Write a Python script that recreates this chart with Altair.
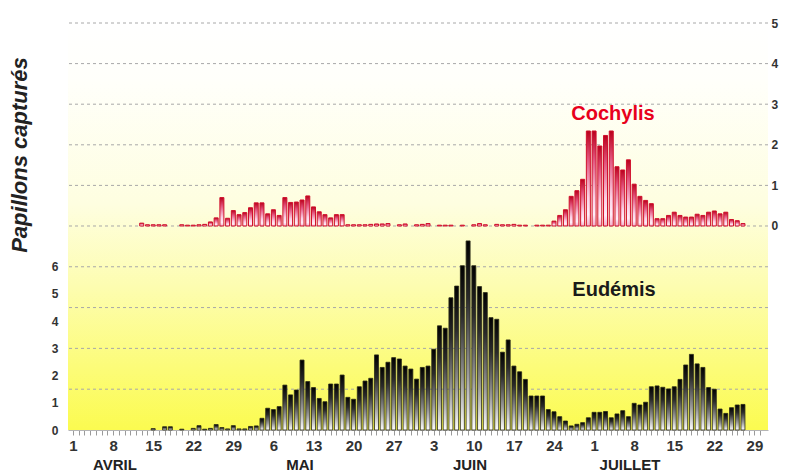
import json
import altair as alt
import pandas as pd

# ---------------- data (day index 0 = 1 April) ----------------
tick_labels = ["1", "8", "15", "22", "29", "6", "13", "20", "27", "3", "10",
               "17", "24", "1", "8", "15", "22", "29"]
month_names = ["AVRIL", "MAI", "JUIN", "JUILLET"]

eudemis_start = 14
eudemis = [0.05, 0, 0.12, 0.12, 0, 0.03, 0, 0.06, 0.16, 0.03, 0.06, 0.2, 0.09,
           0.04, 0.16, 0.04, 0.04, 0.13, 0.15, 0.43, 0.8, 0.75, 0.86, 1.65, 1.29,
           1.47, 2.57, 1.78, 1.56, 1.16, 1.04, 1.69, 1.69, 2.02, 1.2, 1.13, 1.59,
           1.8, 1.9, 2.76, 2.3, 2.49, 2.66, 2.61, 2.35, 2.24, 1.87, 2.3, 2.35,
           2.97, 3.83, 3.74, 4.86, 5.29, 6.04, 6.95, 6.04, 5.27, 5.05, 4.13, 4.07,
           2.86, 3.31, 2.35, 2.14, 1.86, 1.25, 1.25, 1.25, 0.75, 0.67, 0.49, 0.33,
           0.15, 0.21, 0.27, 0.45, 0.65, 0.65, 0.68, 0.45, 0.59, 0.71, 0.49, 0.98,
           0.92, 1.02, 1.59, 1.62, 1.57, 1.51, 1.59, 1.86, 2.39, 2.78, 2.43, 2.3,
           1.56, 1.5, 0.77, 0.61, 0.82, 0.92, 0.94]

cochylis_start = 12
cochylis = [0.07, 0.03, 0.03, 0.03, 0.03, 0, 0, 0.03, 0.02, 0.02, 0.03, 0.04,
            0.1, 0.2, 0.7, 0.19, 0.38, 0.28, 0.33, 0.45, 0.57, 0.57, 0.3, 0.4,
            0.26, 0.7, 0.58, 0.59, 0.64, 0.74, 0.47, 0.35, 0.28, 0.2, 0.28, 0.28,
            0.03, 0.03, 0.03, 0.03, 0.04, 0.05, 0.05, 0.06, 0, 0.03, 0.05, 0,
            0.03, 0.04, 0.06, 0, 0.02, 0.02, 0.02, 0, 0.02, 0, 0.03, 0.06, 0.03,
            0, 0.04, 0.03, 0.03, 0.04, 0.02, 0.02, 0, 0.02, 0.02, 0.02, 0.12,
            0.26, 0.4, 0.73, 0.87, 1.15, 2.34, 2.34, 1.97, 2.23, 2.34, 1.46, 1.38,
            1.63, 1.03, 0.73, 0.63, 0.55, 0.18, 0.18, 0.26, 0.34, 0.26, 0.22,
            0.22, 0.29, 0.26, 0.34, 0.37, 0.3, 0.34, 0.16, 0.13, 0.06]

top_grid = [0, 1, 2, 3, 4, 5]
bottom_grid = [1.5, 3, 4.5, 6]
bottom_ticks = [0, 1, 2, 3, 4, 5, 6]

# ---------------- frames ----------------
df_e = pd.DataFrame({"day": range(eudemis_start, eudemis_start + len(eudemis)),
                     "v": eudemis})
df_e = df_e[df_e.v > 0]
df_c = pd.DataFrame({"day": range(cochylis_start, cochylis_start + len(cochylis)),
                     "v": cochylis})
df_c = df_c[df_c.v > 0]

W, H = 700, 410
FONT = "Liberation Sans"

xscale = alt.Scale(domain=[0, 120.5], nice=False, zero=False)
label_expr = ("datum.value % 7 === 0 && datum.value <= 119 ? "
              + json.dumps(tick_labels) + "[datum.value / 7] : ''")
xaxis = alt.Axis(values=list(range(0, 121)), labelExpr=label_expr, title=None,
                 labelOverlap=False, labelFlush=False, grid=False,
                 tickSize=5, tickColor="#9a9a9a", domainColor="#b5b5b5",
                 labelFont=FONT, labelFontWeight="bold", labelFontSize=15,
                 labelColor="#333333", labelPadding=3)

top_scale = alt.Scale(domain=[-5.025, 5.074], nice=False, zero=False)
bot_scale = alt.Scale(domain=[0, 15.07], nice=False, zero=False)

bg = alt.Chart(pd.DataFrame({"a": [0]})).mark_rect(
    fill=alt.LinearGradient(gradient="linear", x1=0, x2=0, y1=0, y2=1, stops=[
        alt.GradientStop(color="#ffffff", offset=0),
        alt.GradientStop(color="#fffffa", offset=0.15),
        alt.GradientStop(color="#fefee0", offset=0.45),
        alt.GradientStop(color="#fdfdb0", offset=0.65),
        alt.GradientStop(color="#fcfc78", offset=0.85),
        alt.GradientStop(color="#fbfb50", offset=1)])
).encode(x=alt.value(0), x2=alt.value(W), y=alt.value(0), y2=alt.value(H))

rule_style = dict(color="#a8a8a8", strokeDash=[3, 3], strokeWidth=1)
top_rules = alt.Chart(pd.DataFrame({"g": top_grid})).mark_rule(**rule_style).encode(
    y=alt.Y("g:Q", scale=top_scale, axis=None))
bot_rules = alt.Chart(pd.DataFrame({"g": bottom_grid})).mark_rule(**rule_style).encode(
    y=alt.Y("g:Q", scale=bot_scale, axis=None))

red_grad = alt.LinearGradient(gradient="linear", x1=0, x2=0, y1=0, y2=1, stops=[
    alt.GradientStop(color="#b8001c", offset=0),
    alt.GradientStop(color="#e2557e", offset=0.3),
    alt.GradientStop(color="#fbd2e6", offset=0.7),
    alt.GradientStop(color="#ffeef8", offset=0.88),
    alt.GradientStop(color="#f3b0cc", offset=1)])
blk_grad = alt.LinearGradient(gradient="linear", x1=0, x2=0, y1=0, y2=1, stops=[
    alt.GradientStop(color="#000000", offset=0),
    alt.GradientStop(color="#2a2a2a", offset=0.3),
    alt.GradientStop(color="#9a9a9a", offset=0.7),
    alt.GradientStop(color="#ffffff", offset=1)])

top_bars = alt.Chart(df_c).mark_bar(
    fill=red_grad, stroke="#d0102c", strokeWidth=1, size=4
).encode(
    x=alt.X("day:Q", scale=xscale, axis=xaxis),
    y=alt.Y("v:Q", scale=top_scale, axis=alt.Axis(
        orient="right", values=top_grid, grid=False, ticks=False, domain=False,
        title=None, labelFont=FONT, labelFontWeight="bold", labelFontSize=12,
        labelColor="#333333", labelPadding=3)),
    y2=alt.datum(0),
)

bot_bars = alt.Chart(df_e).mark_bar(
    fill=blk_grad, stroke="#2a2a18", strokeWidth=0.9, strokeOpacity=0.9, size=4
).encode(
    x=alt.X("day:Q", scale=xscale, axis=xaxis),
    y=alt.Y("v:Q", scale=bot_scale, axis=alt.Axis(
        orient="left", values=bottom_ticks, grid=False, ticks=False, domain=False,
        title=None, labelFont=FONT, labelFontWeight="bold", labelFontSize=12,
        labelColor="#333333", labelPadding=10)),
)


def label(text, x, y, size, color, **kw):
    props = dict(font=FONT, fontSize=size, fontWeight="bold", color=color,
                 align="center", baseline="alphabetic")
    props.update(kw)
    return alt.Chart(pd.DataFrame({"t": [text]})).mark_text(**props).encode(
        text="t:N", x=alt.value(x), y=alt.value(y))


cochylis_lbl = label("Cochylis", 545, 100, 20, "#e8001c")
eudemis_lbl = label("Eudémis", 546, 276, 20, "#1a1a1a")
ytitle = label("Papillons capturés", -48, 135, 22, "#222222", angle=270,
               fontStyle="italic", baseline="middle")

month_x = [47, 232, 402, 562]
months = alt.layer(*[label(m, x, 450, 15, "#222222")
                     for m, x in zip(month_names, month_x)])

chart = alt.layer(
    bg, top_rules, bot_rules, top_bars, bot_bars,
    cochylis_lbl, eudemis_lbl, ytitle, months
).resolve_scale(y="independent").properties(
    width=W, height=H,
    autosize=alt.AutoSizeParams(type="none"),
    padding={"left": 60, "top": 12, "right": 11, "bottom": 46},
).configure_view(stroke=None)

chart.save("out.html", embed_options={"renderer": "svg", "actions": False})
